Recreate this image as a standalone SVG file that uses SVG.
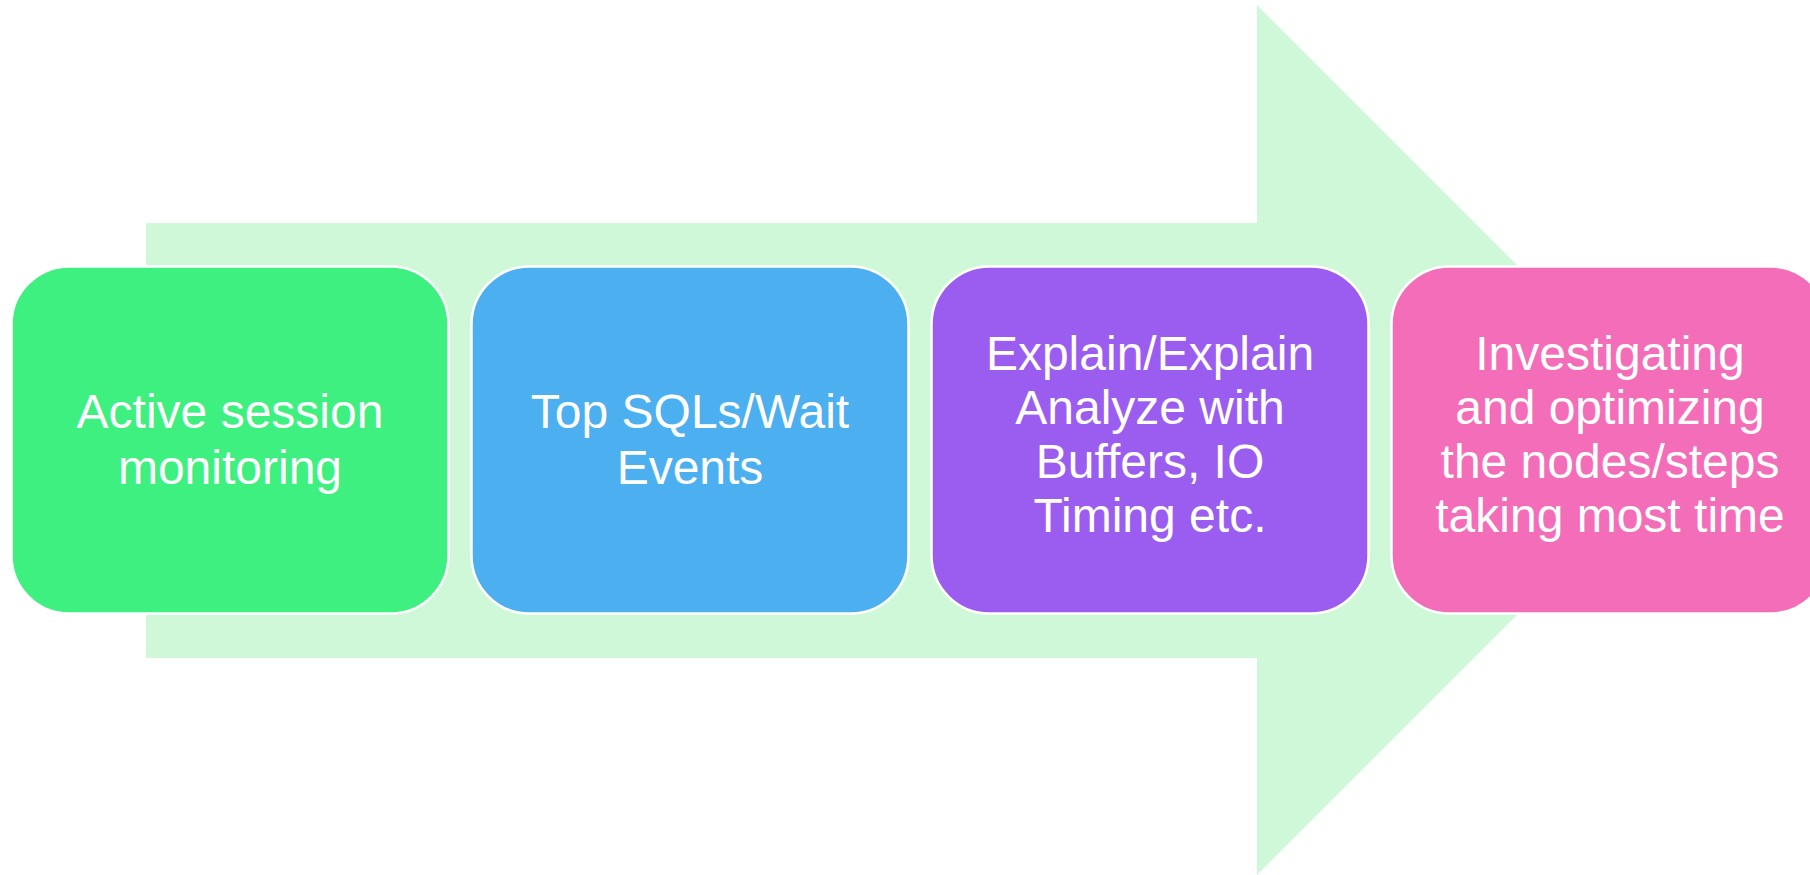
<svg xmlns="http://www.w3.org/2000/svg" width="1810" height="875" viewBox="0 0 1810 875">
  <style>
    .box { stroke: #ffffff; stroke-width: 2.5; }
    .lbl { font-family: "Liberation Sans", Arial, sans-serif; font-size: 48px; fill: #ffffff; text-anchor: middle; }
  </style>
  <rect width="1810" height="875" fill="#ffffff"/>

  <!-- large background arrow -->
  <g id="connectors">
    <polygon points="146,223 1257,223 1257,5 1692,440 1257,875 1257,658 146,658" fill="#cef8d8"/>
  </g>

  <g id="step1">
    <rect class="box" x="11.5" y="266.5" width="437" height="347" rx="58" ry="58" fill="#3df080"/>
    <text class="lbl" x="230" y="428">Active session</text>
    <text class="lbl" x="230" y="483.5">monitoring</text>
  </g>

  <g id="step2">
    <rect class="box" x="471.5" y="266.5" width="437" height="347" rx="58" ry="58" fill="#4baff0"/>
    <text class="lbl" x="690" y="428">Top SQLs/Wait</text>
    <text class="lbl" x="690" y="483.5">Events</text>
  </g>

  <g id="step3">
    <rect class="box" x="931.5" y="266.5" width="437" height="347" rx="58" ry="58" fill="#9b5df0"/>
    <text class="lbl" x="1150" y="370">Explain/Explain</text>
    <text class="lbl" x="1150" y="424">Analyze with</text>
    <text class="lbl" x="1150" y="478">Buffers, IO</text>
    <text class="lbl" x="1150" y="532">Timing etc.</text>
  </g>

  <g id="step4">
    <rect class="box" x="1391.5" y="266.5" width="437" height="347" rx="58" ry="58" fill="#f46db9"/>
    <text class="lbl" x="1610" y="370">Investigating</text>
    <text class="lbl" x="1610" y="424">and optimizing</text>
    <text class="lbl" x="1610" y="478">the nodes/steps</text>
    <text class="lbl" x="1610" y="532">taking most time</text>
  </g>
</svg>
